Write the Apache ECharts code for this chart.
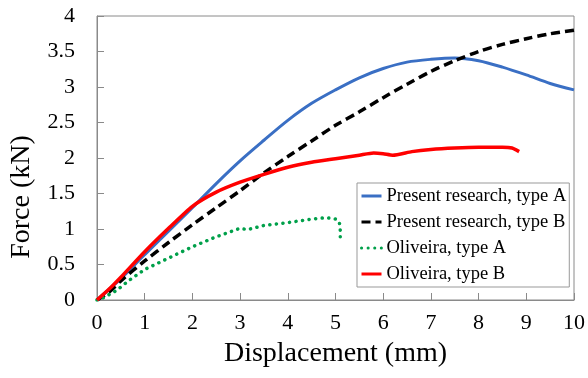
<!DOCTYPE html>
<html>
<head>
<meta charset="utf-8">
<script src="https://cdn.jsdelivr.net/npm/echarts@6/dist/echarts.min.js"></script>
<style>
  html, body { margin: 0; padding: 0; background: #fff; }
  #chart { width: 588px; height: 378px; }
</style>
</head>
<body>
<div id="chart"></div>
<script>
// values
const seriesNames = ['Present research, type A', 'Present research, type B', 'Oliveira, type A', 'Oliveira, type B'];

const presentAX = [0, 0.5, 1, 1.5, 2, 2.5, 3, 3.5, 4, 4.5, 5, 5.5, 6, 6.5, 7, 7.5, 8, 8.5, 9, 9.5, 10];
const presentAY = [0, 0.30, 0.64, 0.97, 1.30, 1.64, 1.96, 2.25, 2.53, 2.77, 2.96, 3.13, 3.26, 3.35, 3.39, 3.41, 3.37, 3.28, 3.17, 3.05, 2.96];

const presentBX = [0, 0.25, 0.5, 1, 1.5, 2, 2.5, 3, 3.5, 4, 4.5, 5, 5.5, 6, 6.5, 7, 7.5, 8, 8.5, 9, 9.5, 10];
const presentBY = [0, 0.11, 0.27, 0.55, 0.81, 1.06, 1.30, 1.54, 1.79, 2.02, 2.24, 2.46, 2.65, 2.85, 3.04, 3.22, 3.37, 3.50, 3.60, 3.68, 3.75, 3.80];

const oliveiraAX = [0, 0.1, 0.4, 0.7, 1, 1.5, 2, 2.5, 3, 3.15, 3.5, 4, 4.5, 4.8, 5.0, 5.08, 5.1, 5.1];
const oliveiraAY = [0, 0.02, 0.13, 0.29, 0.43, 0.59, 0.75, 0.89, 1.01, 0.99, 1.05, 1.09, 1.14, 1.16, 1.14, 1.10, 0.98, 0.85];

const oliveiraBX = [0, 0.25, 0.5, 1, 1.5, 2, 2.5, 3, 3.5, 4, 4.5, 5, 5.5, 5.8, 6.0, 6.2, 6.6, 7, 7.5, 8, 8.5, 8.7, 8.85];
const oliveiraBY = [0, 0.15, 0.32, 0.68, 1.01, 1.32, 1.52, 1.66, 1.77, 1.87, 1.94, 1.99, 2.04, 2.07, 2.06, 2.04, 2.09, 2.12, 2.14, 2.15, 2.15, 2.14, 2.09];

const xTicks = { min: 0, max: 10, interval: 1 };
const yTicks = { min: 0, max: 4, interval: 0.5 };

const font = 'Liberation Serif, Times New Roman, serif';
const axisGray = '#8a8a8a';

function pairs(xs, ys) {
  return xs.map((x, i) => [x, ys[i]]);
}

const chart = echarts.init(document.getElementById('chart'));

const option = {
  animation: false,
  grid: {
    left: 97,
    right: 11,
    top: 16,
    bottom: 78,
    show: true,
    borderColor: axisGray,
    borderWidth: 1
  },
  legend: {
    orient: 'vertical',
    left: 357,
    top: 183,
    data: seriesNames,
    backgroundColor: '#fff',
    borderColor: '#999',
    borderWidth: 1,
    padding: [3, 3, 3, 3],
    itemWidth: 20,
    itemHeight: 12,
    itemGap: 6,
    itemStyle: { opacity: 0 },
    lineStyle: { width: 3 },
    textStyle: { fontFamily: font, fontSize: 18.5, lineHeight: 20, color: '#000' }
  },
  xAxis: {
    type: 'value',
    min: xTicks.min,
    max: xTicks.max,
    interval: xTicks.interval,
    name: 'Displacement (mm)',
    nameLocation: 'middle',
    nameGap: 40,
    nameTextStyle: { fontFamily: font, fontSize: 28, color: '#000' },
    axisLine: { lineStyle: { color: axisGray } },
    axisTick: { inside: true, length: 7, lineStyle: { color: axisGray } },
    axisLabel: { fontFamily: font, fontSize: 22, color: '#000', margin: 12 },
    splitLine: { show: false }
  },
  yAxis: {
    type: 'value',
    min: yTicks.min,
    max: yTicks.max,
    interval: yTicks.interval,
    axisLine: { show: true, lineStyle: { color: axisGray } },
    axisTick: { show: true, inside: true, length: 7, lineStyle: { color: axisGray } },
    axisLabel: { fontFamily: font, fontSize: 22, color: '#000', margin: 22 },
    splitLine: { show: false }
  },
  graphic: [{
    type: 'text',
    x: 22,
    y: 197,
    rotation: Math.PI / 2,
    style: {
      text: 'Force (kN)',
      fontFamily: font,
      fontSize: 28,
      fill: '#000',
      textAlign: 'center',
      textVerticalAlign: 'middle'
    }
  }],
  series: [
    {
      name: seriesNames[0],
      type: 'line',
      data: pairs(presentAX, presentAY),
      smooth: 0.3,
      showSymbol: false,
      symbol: 'none',
      color: '#3A6FC4',
      lineStyle: { width: 3, color: '#3A6FC4' }
    },
    {
      name: seriesNames[1],
      type: 'line',
      data: pairs(presentBX, presentBY),
      smooth: 0.3,
      showSymbol: false,
      symbol: 'none',
      color: '#000',
      lineStyle: { width: 3.5, color: '#000', type: [9, 5] }
    },
    {
      name: seriesNames[2],
      type: 'line',
      data: pairs(oliveiraAX, oliveiraAY),
      showSymbol: false,
      symbol: 'none',
      color: '#00A04A',
      lineStyle: { width: 3.5, color: '#00A04A', type: [0.1, 6.5], cap: 'round' }
    },
    {
      name: seriesNames[3],
      type: 'line',
      data: pairs(oliveiraBX, oliveiraBY),
      smooth: 0.2,
      showSymbol: false,
      symbol: 'none',
      color: '#FF0000',
      lineStyle: { width: 3.5, color: '#FF0000' }
    }
  ]
};

chart.setOption(option);
</script>
</body>
</html>
